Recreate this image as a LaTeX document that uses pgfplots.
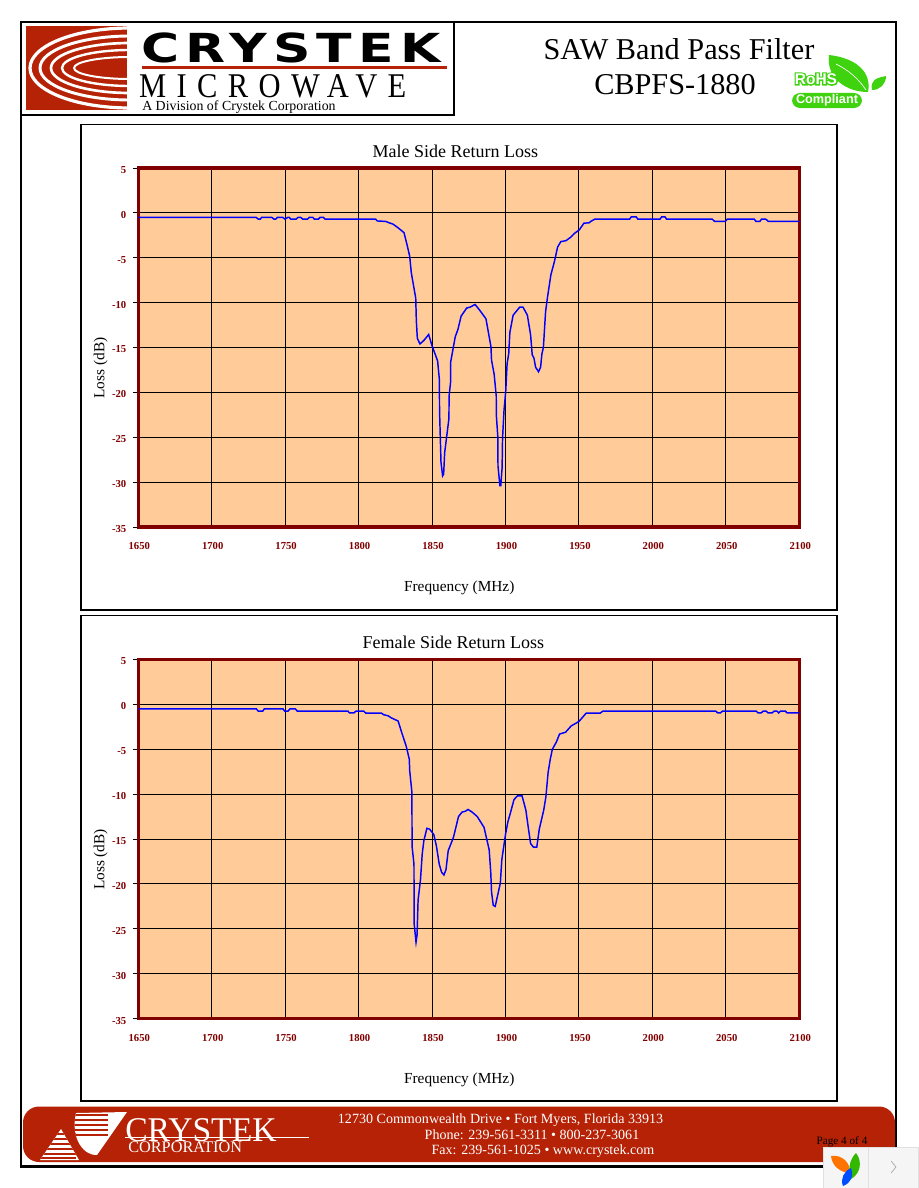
\documentclass[border=0pt]{standalone}
\usepackage{fontspec}
\setmainfont{Liberation Serif}
\newfontfamily\logosans[LetterSpace=12]{DejaVu Sans}
\newfontfamily\logoserif[LetterSpace=34]{Liberation Serif}
\newfontfamily\rohsfont{Liberation Sans}
\newfontfamily\rohsglow[FakeBold=18]{Liberation Sans}
\usepackage{pgfplots}
\usepackage{pgfplotstable}
\pgfplotsset{compat=1.18}
\definecolor{plotbg}{HTML}{FFCC99}
\definecolor{darkred}{HTML}{800000}
\definecolor{brand}{HTML}{B52206}
\definecolor{rohs}{HTML}{3FD20F}
\newcommand{\fs}[1]{\fontsize{#1}{#1}\selectfont}

% frequency (MHz), return loss (dB)
\pgfplotstableread{
f l
1650 -0.5
1729.5 -0.5
1730.2 -0.5
1731.8 -0.7
1733 -0.7
1734 -0.5
1740.9 -0.5
1742.4 -0.7
1743.6 -0.7
1744.7 -0.5
1748.3 -0.5
1749.9 -0.7
1751.8 -0.5
1752.8 -0.5
1753.8 -0.7
1757.4 -0.7
1758.8 -0.5
1760.6 -0.5
1762 -0.7
1765.1 -0.7
1766.5 -0.5
1768.8 -0.5
1769.9 -0.7
1772.6 -0.7
1773.8 -0.5
1776 -0.5
1777.2 -0.7
1811.6 -0.7
1812.7 -0.9
1818.4 -0.95
1820.7 -1.1
1823.4 -1.25
1826.8 -1.65
1830.9 -2.2
1833.2 -3.7
1834.8 -4.85
1835.9 -6.7
1838.9 -9.5
1839.3 -12
1840 -14
1841.8 -14.6
1844.5 -14.2
1847.7 -13.55
1850 -14.8
1853.8 -16.5
1855 -18.6
1855.1 -22
1856.1 -27.8
1857.2 -29.3
1857.9 -29.1
1858.6 -26.7
1861.5 -22.9
1861.6 -20.4
1862.6 -18.9
1862.7 -16.6
1865.8 -13.8
1867.6 -13
1869.8 -11.5
1873.6 -10.6
1875.9 -10.5
1879.3 -10.2
1882.7 -10.9
1886.7 -11.8
1890.1 -14.9
1890.5 -16.4
1892.3 -18
1893.7 -20.4
1893.8 -22.6
1894.8 -25
1894.9 -28.2
1896.2 -30.4
1896.8 -30.4
1897.7 -28.4
1898 -25.1
1899 -22
1900.2 -19.8
1901.1 -16.8
1902.2 -15.7
1903 -13.3
1905.2 -11.4
1909.7 -10.5
1911.9 -10.5
1914.9 -11.4
1917.1 -13.6
1918.2 -15.8
1919.4 -16.2
1920.5 -17.2
1922.5 -17.7
1923.9 -17.2
1924.8 -15.7
1925.8 -15
1927.3 -11
1928.6 -9.4
1930.9 -6.9
1933.2 -5.5
1935.5 -3.8
1937.7 -3.2
1941.1 -3.1
1944.5 -2.7
1946.8 -2.3
1950.2 -1.9
1953.4 -1.15
1957 -1.1
1958 -0.95
1960.8 -0.7
1984.5 -0.7
1985.6 -0.45
1989 -0.45
1990.1 -0.7
2005.2 -0.7
2006.3 -0.45
2008.6 -0.45
2009.7 -0.7
2040.8 -0.7
2042.4 -0.95
2049.6 -0.95
2051 -0.7
2069.4 -0.7
2070.5 -0.95
2073.2 -0.95
2074.3 -0.7
2077.2 -0.7
2079 -0.95
2100 -0.95
}\maletable

\pgfplotstableread{
f l
1650 -0.5
1730.4 -0.5
1731.7 -0.75
1734.7 -0.75
1735.8 -0.5
1748.5 -0.5
1749.7 -0.75
1751.9 -0.75
1753.3 -0.5
1756.9 -0.5
1758.3 -0.75
1792.7 -0.75
1793.9 -0.95
1796.8 -0.95
1798.2 -0.75
1803.5 -0.75
1804.9 -0.96
1815.5 -0.96
1817.1 -1.15
1820 -1.26
1822.3 -1.5
1826.9 -1.85
1829.1 -3
1832.5 -4.7
1834.5 -6.1
1834.8 -7.4
1836.3 -9.8
1836.4 -15.8
1837.7 -17.8
1837.8 -24.4
1839.1 -26.5
1839.8 -25.7
1840.5 -21.8
1842.1 -19.6
1843.3 -16.7
1844.4 -15.2
1846.5 -13.8
1848.4 -13.9
1851.2 -14.5
1853 -15.8
1854.9 -17.8
1856.5 -18.7
1858.1 -19
1859.5 -18.4
1861 -16.3
1864.6 -14.8
1868 -12.5
1870.4 -12
1872.7 -11.9
1874.5 -11.7
1877.3 -12
1880.8 -12.5
1885.4 -13.7
1888.9 -16.2
1890 -18.8
1890.5 -20.9
1891.7 -22.4
1893 -22.5
1896.5 -19.9
1897.5 -17.3
1900 -14.5
1901.6 -13.1
1903.5 -12
1905.8 -10.6
1908.1 -10.2
1911.3 -10.2
1913.9 -11.8
1915.5 -13.7
1917.1 -15.5
1919 -15.9
1921.3 -15.9
1923 -13.9
1926 -11.8
1927.5 -10.3
1929 -7.6
1930.5 -6.1
1931.9 -5
1934.6 -4.2
1936.8 -3.3
1940.9 -3.1
1944.7 -2.4
1950 -1.9
1955 -0.96
1964.5 -0.96
1966.3 -0.75
2043.2 -0.75
2044.5 -0.95
2046.3 -0.95
2047.7 -0.75
2070.7 -0.75
2072 -0.95
2074.1 -0.95
2075.4 -0.75
2077.5 -0.75
2078.8 -0.95
2081.5 -0.95
2082.9 -0.75
2084.9 -0.75
2086 -0.95
2087.2 -0.75
2090.6 -0.75
2091.7 -0.95
2100 -0.95
}\femaletable

\pgfplotsset{filterchart/.style={
  scale only axis, width=495.75pt, height=269.25pt, anchor=south west,
  xmin=1650, xmax=2100, ymin=-35, ymax=5,
  xtick={1650,1700,...,2100}, ytick={-35,-30,...,5},
  ytick pos=left,
  grid=major, grid style={black, line width=0.75pt},
  axis line style={darkred, line width=2.3pt},
  axis background/.style={fill=plotbg},
  tick align=outside, major tick length=4pt,
  ytick style={black, line width=0.75pt}, xtick style={draw=none},
  /pgf/number format/assume math mode=true,
  /pgf/number format/set thousands separator={},
  tick label style={font=\bfseries\fs{8}, text=darkred},
  xticklabel style={yshift=-4pt, xshift=0.75pt},
  yticklabel style={xshift=-1.5pt, yshift=-1.5pt},
  title style={font=\fs{13.5}, anchor=center},
  xlabel style={font=\fs{11.5}, anchor=center, at={(axis description cs:0.4856,-0.17)}},
  ylabel style={font=\fs{11.5}, anchor=center, at={(axis description cs:-0.057,0.443)}},
}}

\begin{document}
\begin{tikzpicture}[x=0.75pt,y=-0.75pt]
\useasboundingbox (0,0) rectangle (918,1188);

% page frames
\draw[line width=2pt] (21,22) rectangle (896,1166.5);
\draw[line width=1.3pt] (21,115) -- (454,115) -- (454,22);
\draw[line width=0.9pt] (81,124.5) rectangle (837,610);
\draw[line width=0.9pt] (81,615.5) rectangle (837,1101);

% top logo
\begin{scope}
\clip (26,26) rectangle (127,110);
\fill[brand] (26,26) rectangle (127,110);
\draw[white, line width=2.4pt] (130,68) ellipse (100 and 40);
\draw[white, line width=2.2pt] (130,68) ellipse (90 and 32);
\draw[white, line width=2pt] (130,68) ellipse (79 and 25);
\draw[white, line width=1.8pt] (130,68) ellipse (68 and 18);
\draw[white, line width=1.5pt] (130,68) ellipse (56 and 11);
\end{scope}
\node[anchor=west, inner sep=0pt, xscale=1.3] at (141,48) {\logosans\bfseries\fs{30}CRYSTEK};
\fill[brand] (142,66) rectangle (447,69);
\node[anchor=west, inner sep=0pt, xscale=0.88] at (139,86) {\logoserif\fs{26}MICROWAVE};
\node[anchor=west, inner sep=0pt] at (142,107.5) {\fs{10.4}A Division of Crystek Corporation};

% heading
\node[inner sep=0pt] at (679,49) {\fs{22.7}SAW Band Pass Filter};
\node[inner sep=0pt] at (675,85) {\fs{22.7}CBPFS-1880};

% RoHS mark
\fill[rohs] (829,55) .. controls (856,58) and (872,72) .. (868,92) .. controls (846,92) and (826,78) .. (829,55) -- cycle;
\draw[white, line width=0.5pt] (836,64) .. controls (848,70) and (858,78) .. (866,90);
\fill[rohs] (872,90) .. controls (870,80) and (876,78) .. (886,76) .. controls (886,84) and (880,90) .. (872,90) -- cycle;
\fill[rohs, rounded corners=6pt] (792,93) rectangle (862,108);
\node[inner sep=0pt, text=white] at (827,100.5) {\rohsfont\bfseries\fs{9.5}Compliant};
\node[inner sep=0pt, text=rohs] at (816,79) {\rohsglow\bfseries\fs{11.6}RoHS};
\node[inner sep=0pt, text=white] at (816,79) {\rohsfont\bfseries\fs{11.6}RoHS};

% male side
\begin{axis}[filterchart, at={(103.7pt,-395.25pt)},
  title={Male Side Return Loss},
  title style={at={(axis description cs:0.4796,1.0247)}},
  xlabel={Frequency (MHz)}, ylabel={Loss (dB)}]
\addplot[blue, line width=1.1pt, mark=none] table[x=f, y=l] {\maletable};
\end{axis}

% female side
\begin{axis}[filterchart, at={(103.7pt,-763.9pt)},
  title={Female Side Return Loss},
  title style={at={(axis description cs:0.4766,1.0247)}},
  xlabel={Frequency (MHz)}, ylabel={Loss (dB)}]
\addplot[blue, line width=1.1pt, mark=none] table[x=f, y=l] {\femaletable};
\end{axis}

% footer band
\fill[brand, rounded corners=12pt] (23,1106.5) rectangle (895,1162);
\begin{scope}
\clip (40,1160) -- (61,1129) -- (79,1160) -- cycle
      (76,1113) -- (127,1112) -- (97,1155) .. controls (85,1156) and (70,1140) .. (76,1113) -- cycle;
\fill[white] (38,1108) rectangle (130,1162);
\foreach \yy in {1115,1120,1125,1130,1135}
  \draw[brand, line width=0.8pt] (72,\yy) -- (108,\yy);
\foreach \yy in {1134,1139,1144,1149,1154,1158}
  \draw[brand, line width=0.8pt] (38,\yy) -- (76,\yy);
\end{scope}
\node[anchor=west, inner sep=0pt, text=white, xscale=0.97] at (125,1130) {\fs{26}CRYSTEK};
\draw[white, line width=0.7pt] (125,1137) -- (309,1137);
\node[anchor=west, inner sep=0pt, text=white] at (128,1147) {\fs{12.2}CORPORATION};
\node[inner sep=0pt, text=white] at (500.6,1120) {\fs{10.55}12730 Commonwealth Drive • Fort Myers, Florida 33913};
\node[inner sep=0pt, text=white] at (532,1135) {\fs{10.55}Phone: 239-561-3311 • 800-237-3061};
\node[inner sep=0pt, text=white] at (543,1151) {\fs{10.55}Fax: 239-561-1025 • www.crystek.com};
\node[inner sep=0pt] at (842,1142) {\fs{8.4}Page 4 of 4};

% corner widget
\draw[fill=black!4, draw=black!12] (823,1147) rectangle (918,1188);
\draw[black!12] (868,1147) -- (868,1188);
\fill[orange!90!red] (831,1156) .. controls (842,1154) and (852,1164) .. (849,1173) .. controls (840,1172) and (832,1166) .. (831,1156) -- cycle;
\fill[green!65!black!80!yellow] (856,1153) .. controls (863,1162) and (860,1174) .. (851,1179) .. controls (848,1170) and (849,1160) .. (856,1153) -- cycle;
\fill[blue!70!cyan] (851,1168) .. controls (854,1176) and (851,1183) .. (843,1186) .. controls (840,1179) and (844,1171) .. (851,1168) -- cycle;
\draw[black!35, line width=0.5pt] (891,1161) -- (896,1167) -- (891,1173);
\end{tikzpicture}
\end{document}
